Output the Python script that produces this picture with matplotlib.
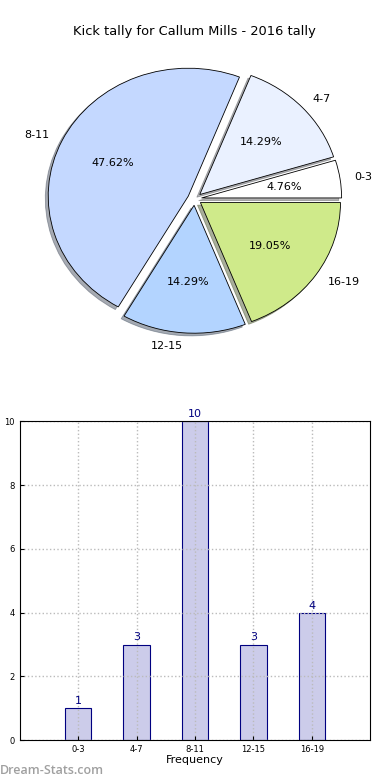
import matplotlib
matplotlib.use('Agg')
import matplotlib.pyplot as plt
import numpy as np

matplotlib.rcParams['font.family'] = 'DejaVu Sans'

# Data
ranges = ['0-3', '4-7', '8-11', '12-15', '16-19']
tally = [1, 3, 10, 3, 4]
slice_colors = ['#ffffff', '#eaf1ff', '#c4d8ff', '#b3d4ff', '#cfea8a']
explode = [0.05, 0.05, 0.05, 0.05, 0.05]

fig = plt.figure(figsize=(3.9, 7.8), dpi=100)

# Pie chart
ax_pie = fig.add_axes([0.05, 0.54, 0.898, 0.41])
wedges, texts, autotexts = ax_pie.pie(
    tally, labels=ranges, colors=slice_colors, explode=explode,
    autopct='%.2f%%', shadow={'ox': -0.015, 'oy': -0.015, 'shade': 0.6}, startangle=0,
    wedgeprops={'edgecolor': 'black', 'linewidth': 0.6},
    textprops={'fontsize': 8})
ax_pie.set_aspect('auto')
ax_pie.set_xlim(-1.25, 1.25)
ax_pie.set_ylim(-1.25, 1.25)
ax_pie.set_title('Kick tally for Callum Mills - 2016 tally', fontsize=9.4, pad=3)

# Bar chart
ax_bar = fig.add_axes([0.051, 0.051, 0.898, 0.409])
x = np.arange(1, len(ranges) + 1)
bars = ax_bar.bar(x, tally, width=0.45, color='#ccccea', edgecolor='#000080', linewidth=0.8)
for xi, v in zip(x, tally):
    ax_bar.annotate(str(v), (xi, v), xytext=(0, 1.5), textcoords='offset points',
                    ha='center', va='bottom', color='#000080', fontsize=8)
ax_bar.set_xlim(0, 6)
ax_bar.set_ylim(0, 10)
ax_bar.set_xticks(x)
ax_bar.set_xticklabels(ranges)
ax_bar.set_yticks(np.arange(0, 11, 2))
ax_bar.tick_params(labelsize=6, direction='in', length=3)
ax_bar.set_axisbelow('line')
ax_bar.grid(True, linestyle=':', color='#bbbbbb', linewidth=1)
ax_bar.set_xlabel('Frequency', fontsize=8, labelpad=1)
ax_bar.set_ylabel('No. of Games', fontsize=8)
ax_bar.yaxis.set_label_coords(-0.049, 0.5)

fig.text(0.0, 0.004, 'Dream-Stats.com', color='#a0a0a0', fontsize=9,
         family='Open Sans', weight='semibold', ha='left', va='bottom')

plt.savefig('out.png', dpi=100)
